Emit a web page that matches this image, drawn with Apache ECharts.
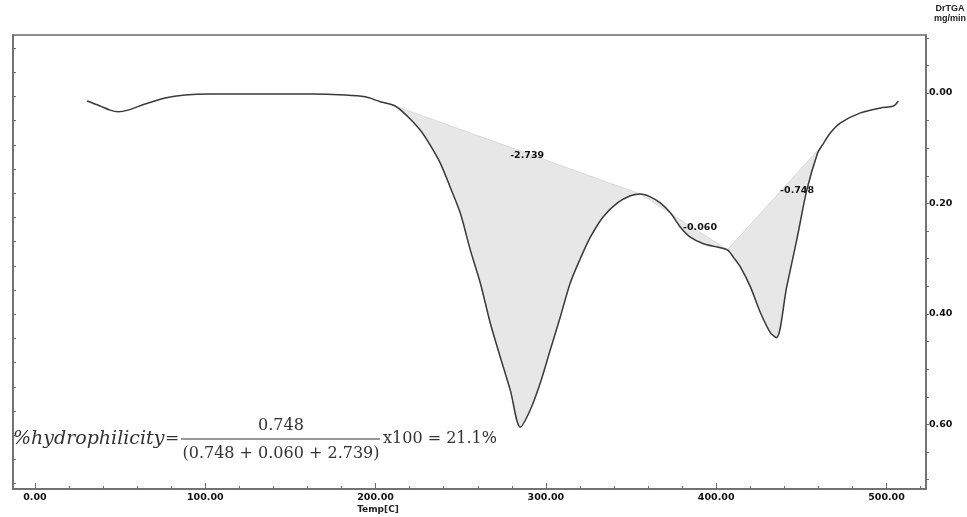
<!DOCTYPE html>
<html lang="en">
<head>
    <meta charset="UTF-8">
    <title>DrTGA</title>
    <style>
      html, body { margin: 0; padding: 0; background: #fff; }
    </style>
</head>
<body>

    <div id="main" style="width: 967px; height: 517px;"></div>
    <script src="https://cdn.jsdelivr.net/npm/echarts@6/dist/echarts.min.js"></script>
    <script>
      // temperature (C) and DrTGA (mg/min, drawn downwards)
      const temps = [30.6, 38.2, 44.1, 48.8, 54.6, 64.6, 76.4, 88.1, 102.8, 132.2,
        161.5, 182.1, 193.9, 202.7, 211.5, 219, 226.2, 232, 238, 244,
        249.7, 255.6, 261.5, 267.3, 273.2, 279.1, 285, 290.8,
        296.7, 302.6, 308.5, 314.3, 320.2, 326.1, 333.7, 342, 349.6, 355.5,
        361.3, 367.2, 373.1, 379, 384.8, 392.5, 400.7, 406.6, 410.5, 414.2,
        420.1, 426, 431.8, 435.4, 441.4, 447.3, 453.2,
        459.5, 462.4, 467.1, 473, 484.7, 496.5, 504.1, 507];
      const dtg = [0.0145, 0.0235, 0.031, 0.034, 0.031, 0.020, 0.009, 0.0036, 0.0018, 0.0018,
        0.0018, 0.0036, 0.007, 0.0157, 0.0235, 0.043, 0.067, 0.094, 0.127, 0.172,
        0.217, 0.284, 0.344, 0.416, 0.478, 0.538, 0.605, 0.574,
        0.525, 0.465, 0.405, 0.344, 0.300, 0.261, 0.224, 0.199, 0.186, 0.183,
        0.188, 0.199, 0.217, 0.243, 0.261, 0.273, 0.279, 0.284, 0.299, 0.315,
        0.351, 0.398, 0.434, 0.443, 0.351, 0.266, 0.176,
        0.109, 0.094, 0.072, 0.054, 0.036, 0.027, 0.0235, 0.0145];

      // integrated peaks: start temp, end temp, area
      const peakStart = [211.5, 355.5, 406.6];
      const peakEnd = [355.5, 406.6, 462.4];
      const peakArea = ['-2.739', '-0.060', '-0.748'];
      // where the area text sits (temp, dtg)
      const peakLabelAt = [[289, 0.114], [390.5, 0.244], [447.5, 0.176]];

      const xLabels = [0, 100, 200, 300, 400, 500];
      const yLabels = [0, 0.2, 0.4, 0.6];

      var xMinor = [];
      for (var i = 0; i <= 26; i++) if (i % 5) xMinor.push(i * 20);
      var yMinor = [];
      for (var i = -2; i <= 14; i++) yMinor.push(Math.round(i * 5) / 100);
      var leftTicks = [];
      for (var i = 0; i <= 18; i++) leftTicks.push(0.54 + i);

      var chartDom = document.getElementById('main');
      var myChart = echarts.init(chartDom);
      var option;

      const axisColor = '#6a6a6a';
      const tickFont = { fontFamily: 'DejaVu Sans', fontWeight: 'bold', fontSize: 9.5, color: '#111' };

      option = {
        animation: false,
        backgroundColor: '#fff',
        grid: {
          left: 13, right: 41, top: 35, bottom: 28,
          show: true, borderColor: axisColor, borderWidth: 1.5
        },
        xAxis: [
          {
            type: 'value', min: -12.9, max: 523.2, position: 'bottom',
            axisLine: { onZero: false, lineStyle: { color: axisColor, width: 1.5 } },
            axisTick: { customValues: xLabels, inside: true, length: 6, lineStyle: { color: axisColor } },
            axisLabel: Object.assign({
              customValues: xLabels, margin: 4,
              formatter: function (v) { return v.toFixed(2); }
            }, tickFont),
            splitLine: { show: false }
          },
          {
            // minor ticks: a top axis pushed down onto the bottom edge
            type: 'value', min: -12.9, max: 523.2, position: 'top', offset: -454,
            axisLine: { show: false, onZero: false },
            axisTick: { customValues: xMinor, inside: false, length: 3, lineStyle: { color: axisColor } },
            axisLabel: { show: false },
            splitLine: { show: false }
          }
        ],
        yAxis: [
          {
            type: 'value', min: -0.105, max: 0.717, inverse: true, position: 'right',
            axisLine: { show: true, onZero: false, lineStyle: { color: axisColor, width: 1.5 } },
            axisTick: { show: true, customValues: yMinor, length: 3, lineStyle: { color: axisColor } },
            axisLabel: Object.assign({
              customValues: yLabels, margin: 3,
              formatter: function (v) { return v.toFixed(2); }
            }, tickFont),
            splitLine: { show: false }
          },
          {
            type: 'value', min: 0, max: 18.76, inverse: true, position: 'left',
            axisLine: { show: true, onZero: false, lineStyle: { color: axisColor, width: 1.5 } },
            axisTick: { show: true, customValues: leftTicks, inside: true, length: 3, lineStyle: { color: axisColor } },
            axisLabel: { show: false },
            splitLine: { show: false }
          }
        ],
        series: [
          {
            type: 'custom',
            xAxisIndex: 0,
            yAxisIndex: 0,
            z: 1,
            data: peakStart.map(function (s, k) { return [s, 0, k]; }),
            renderItem: function (params, api) {
              var k = params.dataIndex;
              var pts = [];
              for (var j = 0; j < temps.length; j++) {
                if (temps[j] >= peakStart[k] && temps[j] <= peakEnd[k]) {
                  pts.push(api.coord([temps[j], dtg[j]]));
                }
              }
              var at = api.coord(peakLabelAt[k]);
              return {
                type: 'group',
                children: [
                  {
                    type: 'polygon',
                    shape: { points: pts },
                    style: { fill: '#e7e7e7', stroke: '#d4d4d4', lineWidth: 0.8 }
                  },
                  {
                    type: 'text',
                    x: at[0], y: at[1],
                    style: {
                      text: peakArea[k], fill: '#111',
                      font: 'bold 9.5px "DejaVu Sans"',
                      align: 'center', verticalAlign: 'middle'
                    }
                  }
                ]
              };
            }
          },
          {
            type: 'line',
            xAxisIndex: 0,
            yAxisIndex: 0,
            z: 3,
            showSymbol: false,
            smooth: 0.3,
            lineStyle: { color: '#3a3a3a', width: 1.5 },
            data: temps.map(function (t, j) { return [t, dtg[j]]; })
          }
        ],
        graphic: [
          { type: 'text', x: 950, y: 9, style: { text: 'DrTGA', font: 'bold 9px "Liberation Sans"', fill: '#222', align: 'center', verticalAlign: 'middle' } },
          { type: 'text', x: 950, y: 19, style: { text: 'mg/min', font: 'bold 9px "Liberation Sans"', fill: '#222', align: 'center', verticalAlign: 'middle' } },
          { type: 'text', x: 378, y: 510, style: { text: 'Temp[C]', font: 'bold 9px "DejaVu Sans"', fill: '#222', align: 'center', verticalAlign: 'middle' } },
          // formula
          { type: 'text', x: 13, y: 439, style: { text: '%hydrophilicity', font: 'italic 19px "DejaVu Serif"', fill: '#333', align: 'left', verticalAlign: 'middle' } },
          { type: 'text', x: 172, y: 439, style: { text: '=', font: '17px "DejaVu Serif"', fill: '#333', align: 'center', verticalAlign: 'middle' } },
          { type: 'text', x: 281, y: 426, style: { text: '0.748', font: '16px "DejaVu Serif"', fill: '#333', align: 'center', verticalAlign: 'middle' } },
          { type: 'line', shape: { x1: 181, y1: 439, x2: 380, y2: 439 }, style: { stroke: '#333', lineWidth: 1.2 } },
          { type: 'text', x: 281, y: 454, style: { text: '(0.748 + 0.060 + 2.739)', font: '16px "DejaVu Serif"', fill: '#333', align: 'center', verticalAlign: 'middle' } },
          { type: 'text', x: 383, y: 439, style: { text: 'x100 = 21.1%', font: '16px "DejaVu Serif"', fill: '#333', align: 'left', verticalAlign: 'middle' } }
        ]
      };

      option && myChart.setOption(option);

    </script>
</body>
</html>
